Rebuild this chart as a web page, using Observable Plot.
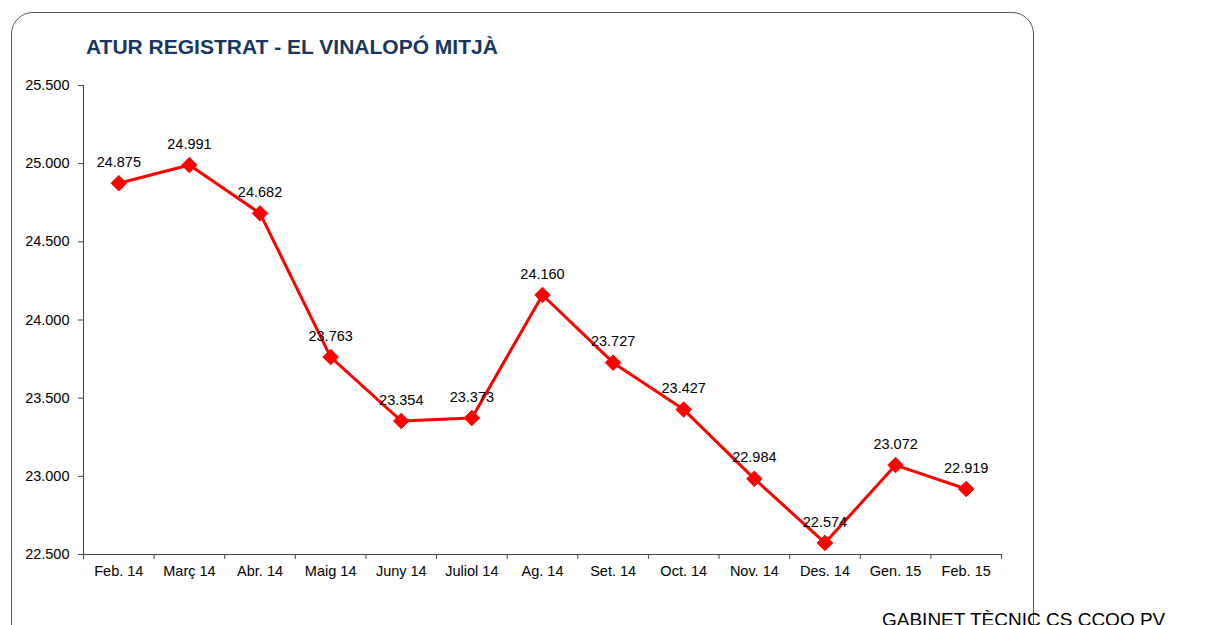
<!DOCTYPE html>
<html>
<head>
<meta charset="utf-8">
<script src="https://cdn.jsdelivr.net/npm/d3@7"></script>
<script src="https://cdn.jsdelivr.net/npm/@observablehq/plot@0.6"></script>
<style>
  html, body { margin: 0; padding: 0; background: #fff; }
  #wrap { position: relative; width: 1220px; height: 625px; overflow: hidden; font-family: "Liberation Sans", Arial, sans-serif; }
  #frame { position: absolute; left: 11px; top: 12px; width: 1021px; height: 700px; border: 1px solid #555; border-radius: 22px; }
  #title { position: absolute; left: 86px; top: 35px; font-size: 21px; font-weight: bold; color: #17375e; white-space: nowrap; }
  #chart { position: absolute; left: 0; top: 60px; }
  #footer { position: absolute; left: 882px; top: 609px; font-size: 19px; color: #000; white-space: nowrap; }
</style>
</head>
<body>
<div id="wrap">
  <div id="frame"></div>
  <div id="title">ATUR REGISTRAT - EL VINALOPÓ MITJÀ</div>
  <div id="chart"></div>
  <div id="footer">GABINET TÈCNIC CS CCOO PV</div>
</div>
<script>
const months = ["Feb. 14", "Març 14", "Abr. 14", "Maig 14", "Juny 14", "Juliol 14", "Ag. 14", "Set. 14", "Oct. 14", "Nov. 14", "Des. 14", "Gen. 15", "Feb. 15"];
const values = [24875, 24991, 24682, 23763, 23354, 23373, 24160, 23727, 23427, 22984, 22574, 23072, 22919];
const yTicks = [22500, 23000, 23500, 24000, 24500, 25000, 25500];

const fmt = v => d3.format(",.0f")(v).replace(/,/g, ".");
const data = months.map((m, i) => ({month: m, idx: i + 0.5, value: values[i]}));

const chart = Plot.plot({
  width: 1220,
  height: 540,
  marginLeft: 83,
  marginRight: 219,
  marginTop: 25,
  marginBottom: 46,
  style: {fontFamily: "'Liberation Sans', Arial, sans-serif", fontSize: "14px", color: "#000", background: "transparent"},
  x: {type: "linear", domain: [0, months.length]},
  y: {domain: [22500, 25500]},
  marks: [
    Plot.axisY({ticks: yTicks, tickFormat: fmt, tickSize: 5, tickPadding: 9, label: null, fontSize: 14.5, stroke: "#444"}),
    Plot.ruleX([0], {stroke: "#444", strokeWidth: 1}),
    Plot.ruleY([22500], {stroke: "#444", strokeWidth: 1}),
    Plot.axisX({ticks: d3.range(months.length + 1), tickFormat: () => "", tickSize: 5, label: null, stroke: "#444"}),
    Plot.axisX({ticks: data.map(d => d.idx), tickFormat: (d) => months[Math.floor(d)], tickSize: 0, tickPadding: 11, label: null, fontSize: 14.5}),
    Plot.line(data, {x: "idx", y: "value", stroke: "#ff0000", strokeWidth: 3}),
    Plot.dot(data, {x: "idx", y: "value", symbol: "diamond2", r: 7, fill: "#ff0000", stroke: "#ff0000", strokeWidth: 1}),
    Plot.text(data, {x: "idx", y: "value", text: d => fmt(d.value), dy: -21, fontSize: 14.5, fill: "#000"})
  ]
});
document.getElementById("chart").appendChild(chart);
</script>
</body>
</html>
